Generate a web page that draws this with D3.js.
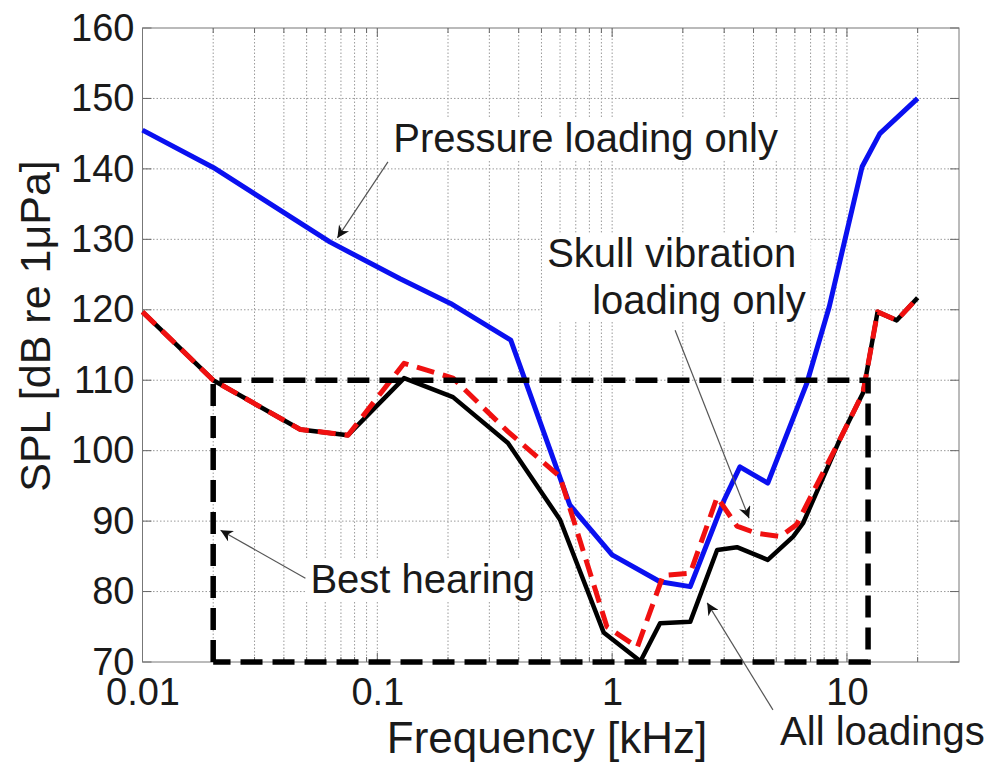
<!DOCTYPE html>
<html>
<head>
<meta charset="utf-8">
<script src="https://cdn.jsdelivr.net/npm/d3@7"></script>
<style>
  html, body { margin: 0; padding: 0; background: #fff; }
  svg { display: block; }
  text { font-family: "Liberation Sans", Arial, sans-serif; fill: #1a1a1a; }
</style>
</head>
<body>
<svg id="chart" width="990" height="765"></svg>
<script>
// ---------------- data ----------------
const pressureFreq = [0.01, 0.02, 0.063, 0.125, 0.205, 0.37, 0.66, 1.0, 1.6, 2.15, 3.0, 3.5, 4.6, 6.75, 8.4, 9.5, 11.6, 13.8, 20];
const pressureSPL  = [145.5, 140.2, 129.6, 124.4, 120.9, 115.7, 92.3, 85.2, 81.4, 80.7, 93, 97.7, 95.4, 109.6, 120.4, 128, 140.3, 145, 150];

const skullFreq = [0.01, 0.02, 0.047, 0.075, 0.13, 0.21, 0.36, 0.6, 0.95, 1.28, 1.65, 2.15, 2.8, 3.4, 4.1, 5.2, 6.1, 9.3, 11.7, 13.5, 16.3, 20];
const skullSPL  = [119.7, 110, 103, 102.2, 112.4, 110.3, 102.7, 96.3, 75, 72.1, 82.3, 82.6, 93.4, 89.3, 88.3, 87.8, 89.5, 101.5, 108.2, 119.7, 118.5, 121.7];

const allFreq = [0.01, 0.02, 0.047, 0.075, 0.13, 0.21, 0.36, 0.6, 0.92, 1.32, 1.6, 2.15, 2.8, 3.4, 4.6, 5.9, 6.5, 9.3, 11.7, 13.5, 16.3, 20];
const allSPL  = [119.7, 110, 103, 102.2, 110.3, 107.6, 101.1, 90.2, 74.2, 70.1, 75.5, 75.7, 85.9, 86.3, 84.5, 87.8, 89.7, 101.5, 108.2, 119.7, 118.5, 121.7];

const bestHearingFreq = [0.02, 12.3];
const bestHearingSPL  = [70, 110];

const xTickValues = [0.01, 0.1, 1, 10];
const xTickLabels = ["0.01", "0.1", "1", "10"];
const yTickValues = [70, 80, 90, 100, 110, 120, 130, 140, 150, 160];

const xDomain = [0.01, 30];
const yDomain = [70, 160];

// annotations in data coordinates: [label lines], text anchor point, arrow from -> to
const annotations = [
  { lines: ["Pressure loading only"], tx: [0.117], ty: [142.4], from: [0.111, 141.0], to: [0.0676, 130.2] },
  { lines: ["Skull vibration", "loading only"], tx: [0.529, 0.822], ty: [126.1, 119.4], from: [1.854, 117.1], to: [3.83, 90.4] },
  { lines: ["Best hearing"], tx: [0.0519], ty: [79.8], from: [0.0494, 81.9], to: [0.0215, 88.7] },
  { lines: ["All loadings"], tx: [5.19], ty: [58.2], from: [4.84, 63.2], to: [2.54, 78.4], noBg: true }
];

// ---------------- layout ----------------
const svg = d3.select("#chart");
const x = d3.scaleLog().domain(xDomain).range([142.5, 959]);
const y = d3.scaleLinear().domain(yDomain).range([662, 28]);
const [x0, x1] = x.range();
const [y0, y1] = y.range();

const defs = svg.append("defs");
defs.append("marker")
  .attr("id", "arrow").attr("viewBox", "0 0 10 10")
  .attr("refX", 10).attr("refY", 5)
  .attr("markerWidth", 15).attr("markerHeight", 12)
  .attr("markerUnits", "userSpaceOnUse")
  .attr("orient", "auto")
  .append("path").attr("d", "M0,0 L10,5 L0,10 L3,5 Z").attr("fill", "#111");

// grid
const minorX = [];
for (let e = -2; e <= 1; e++) {
  for (let m = 1; m <= 9; m++) {
    const v = m * Math.pow(10, e);
    if (v > xDomain[0] * 1.0001 && v < xDomain[1] * 0.9999) minorX.push(v);
  }
}
const grid = svg.append("g");
grid.selectAll("line.vx").data(minorX).enter().append("line")
  .attr("x1", d => x(d)).attr("x2", d => x(d))
  .attr("y1", y1).attr("y2", y0)
  .attr("stroke", "#9a9a9a").attr("stroke-width", 1).attr("stroke-dasharray", "1.5,2");
grid.selectAll("line.hy").data(yTickValues.filter(v => v > yDomain[0] && v < yDomain[1])).enter().append("line")
  .attr("x1", x0).attr("x2", x1)
  .attr("y1", d => y(d)).attr("y2", d => y(d))
  .attr("stroke", "#9a9a9a").attr("stroke-width", 1).attr("stroke-dasharray", "1.5,2");

// tick marks (inside, all sides)
const ticks = svg.append("g").attr("stroke", "#666").attr("stroke-width", 1);
minorX.forEach(v => {
  const len = xTickValues.includes(v) ? 9 : 5;
  ticks.append("line").attr("x1", x(v)).attr("x2", x(v)).attr("y1", y0).attr("y2", y0 - len);
  ticks.append("line").attr("x1", x(v)).attr("x2", x(v)).attr("y1", y1).attr("y2", y1 + len);
});
yTickValues.forEach(v => {
  ticks.append("line").attr("x1", x0).attr("x2", x0 + 9).attr("y1", y(v)).attr("y2", y(v));
  ticks.append("line").attr("x1", x1).attr("x2", x1 - 9).attr("y1", y(v)).attr("y2", y(v));
});

// frame
svg.append("rect").attr("x", x0).attr("y", y1).attr("width", x1 - x0).attr("height", y0 - y1)
  .attr("fill", "none").attr("stroke", "#777").attr("stroke-width", 1);

// axes labels via d3 axes
const xAxis = d3.axisBottom(x).tickValues(xTickValues)
  .tickFormat((d, i) => xTickLabels[i]).tickSize(0).tickPadding(16);
const gx = svg.append("g").attr("transform", `translate(0,${y0})`).call(xAxis);
gx.select(".domain").remove();
gx.selectAll("text").attr("font-size", 38).attr("font-family", "Liberation Sans, Arial, sans-serif").attr("fill", "#1a1a1a");

const yAxis = d3.axisLeft(y).tickValues(yTickValues).tickFormat(d3.format("d")).tickSize(0).tickPadding(8);
const gy = svg.append("g").attr("transform", `translate(${x0},0)`).call(yAxis);
gy.select(".domain").remove();
gy.selectAll("text").attr("font-size", 38).attr("dy", "0.32em").attr("font-family", "Liberation Sans, Arial, sans-serif").attr("fill", "#1a1a1a");

svg.append("text").attr("x", 547).attr("y", 753)
  .attr("text-anchor", "middle").attr("font-size", 44).text("Frequency [kHz]");
svg.append("text").attr("transform", `translate(50,326) rotate(-90)`)
  .attr("text-anchor", "middle").attr("font-size", 43).text("SPL [dB re 1\u03BCPa]");

// annotation text with white background boxes
const annG = svg.append("g");
annotations.forEach(a => {
  const g = annG.append("g");
  const texts = a.lines.map((ln, i) => g.append("text")
    .attr("x", x(a.tx[i])).attr("y", y(a.ty[i]))
    .attr("font-size", 40).text(ln));
  if (!a.noBg) {
    let bx0 = Infinity, by0 = Infinity, bx1 = -Infinity, by1 = -Infinity;
    texts.forEach(t => {
      const b = t.node().getBBox();
      bx0 = Math.min(bx0, b.x); by0 = Math.min(by0, b.y);
      bx1 = Math.max(bx1, b.x + b.width); by1 = Math.max(by1, b.y + b.height);
    });
    g.insert("rect", "text").attr("x", bx0 - 5).attr("y", by0 + 2)
      .attr("width", bx1 - bx0 + 10).attr("height", by1 - by0 - 2).attr("fill", "#fff");
  }
});

// curves
const line = d3.line().x(d => x(d[0])).y(d => y(d[1]));
const zip = (a, b) => a.map((v, i) => [v, b[i]]);

svg.append("path").datum(zip(pressureFreq, pressureSPL)).attr("d", line)
  .attr("fill", "none").attr("stroke", "#0a10f0").attr("stroke-width", 5).attr("stroke-linejoin", "round");
svg.append("path").datum(zip(allFreq, allSPL)).attr("d", line)
  .attr("fill", "none").attr("stroke", "#000").attr("stroke-width", 4.5).attr("stroke-linejoin", "round");
svg.append("path").datum(zip(skullFreq, skullSPL)).attr("d", line)
  .attr("fill", "none").attr("stroke", "#f01010").attr("stroke-width", 5).attr("stroke-dasharray", "18,9").attr("stroke-linejoin", "round");

// best hearing box
const boxPts = [
  [bestHearingFreq[0], bestHearingSPL[0]], [bestHearingFreq[0], bestHearingSPL[1]],
  [bestHearingFreq[1], bestHearingSPL[1]], [bestHearingFreq[1], bestHearingSPL[0]],
  [bestHearingFreq[0], bestHearingSPL[0]]
];
svg.append("path").datum(boxPts).attr("d", line)
  .attr("fill", "none").attr("stroke", "#000").attr("stroke-width", 5.5).attr("stroke-dasharray", "22,10");

// arrows
annotations.forEach(a => {
  svg.append("line")
    .attr("x1", x(a.from[0])).attr("y1", y(a.from[1]))
    .attr("x2", x(a.to[0])).attr("y2", y(a.to[1]))
    .attr("stroke", "#555").attr("stroke-width", 1.2)
    .attr("marker-end", "url(#arrow)");
});
</script>
</body>
</html>
